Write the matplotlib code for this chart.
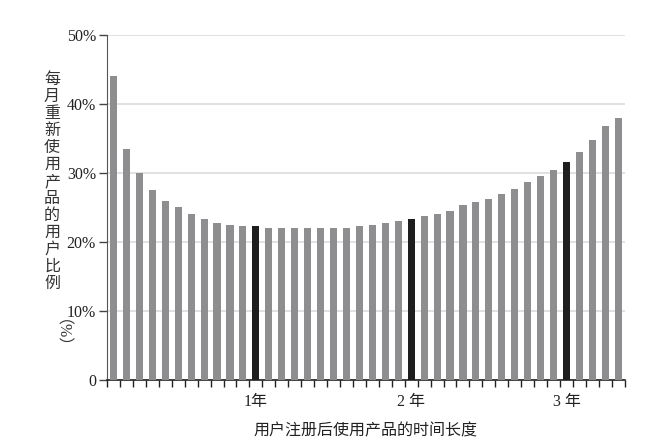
import numpy as np
import matplotlib
matplotlib.use("Agg")
import matplotlib.pyplot as plt

plt.rcParams['font.family'] = ['Liberation Serif', 'Noto Sans CJK SC']

# monthly share of users coming back (%), months 1..40
months = list(range(1, 41))
values = [44.0, 33.5, 30.0, 27.5, 26.0, 25.0, 24.0, 23.4, 22.7, 22.4,
          22.3, 22.3, 22.1, 22.1, 22.1, 22.1, 22.1, 22.1, 22.1, 22.3,
          22.4, 22.7, 23.0, 23.4, 23.8, 24.1, 24.5, 25.3, 25.8, 26.2,
          26.9, 27.7, 28.7, 29.5, 30.4, 31.6, 33.1, 34.8, 36.8, 38.0]
highlight = [12, 24, 36]
year_ticks = [12, 24, 36]
year_labels = ["1年", "2 年", "3 年"]
y_ticks = [0, 10, 20, 30, 40, 50]
y_labels = ["0", "10%", "20%", "30%", "40%", "50%"]
ylabel_text = "每月重新使用产品的用户比例"
xlabel_text = "用户注册后使用产品的时间长度"

fig = plt.figure(figsize=(6.59, 4.48), dpi=100)
ax = fig.add_axes([0.1624, 0.1518, 0.7856, 0.7701])

colors = ["#1e1e1e" if m in highlight else "#8e8e90" for m in months]
ax.bar(months, values, width=0.55, color=colors, zorder=3)

ax.set_xlim(0.5, 40.5)
ax.set_ylim(0, 50)

ax.set_yticks(y_ticks)
ax.set_yticklabels(y_labels, fontsize=11.5, color="#222222")
ax.yaxis.grid(True, color="#dcdcdc", linewidth=1.2, zorder=0)
ax.tick_params(axis='y', length=6, width=1, color="#444444", pad=2)

ax.set_xticks(year_ticks)
ax.set_xticklabels(year_labels, fontsize=11.5, color="#222222")
ax.tick_params(axis='x', which='major', length=0, pad=10)
ax.set_xticks(np.arange(0.5, 41, 1), minor=True)
ax.tick_params(axis='x', which='minor', length=5, width=1, color="#222222")

for s in ["top", "right"]:
    ax.spines[s].set_visible(False)
ax.spines["left"].set_color("#555555")
ax.spines["bottom"].set_color("#222222")
ax.spines["bottom"].set_linewidth(1.2)

ax.set_xlabel(xlabel_text, fontsize=11.5, color="#222222", labelpad=10)

# vertical stacked y label
fig.text(0.079, 0.594, "\n".join(ylabel_text), fontsize=11.5, color="#333333",
         ha="center", va="center", linespacing=1.08)
fig.text(0.079, 0.238, "（%）", fontsize=11.5, color="#333333",
         ha="center", va="center", rotation=270)

fig.savefig("out.png", dpi=100)
